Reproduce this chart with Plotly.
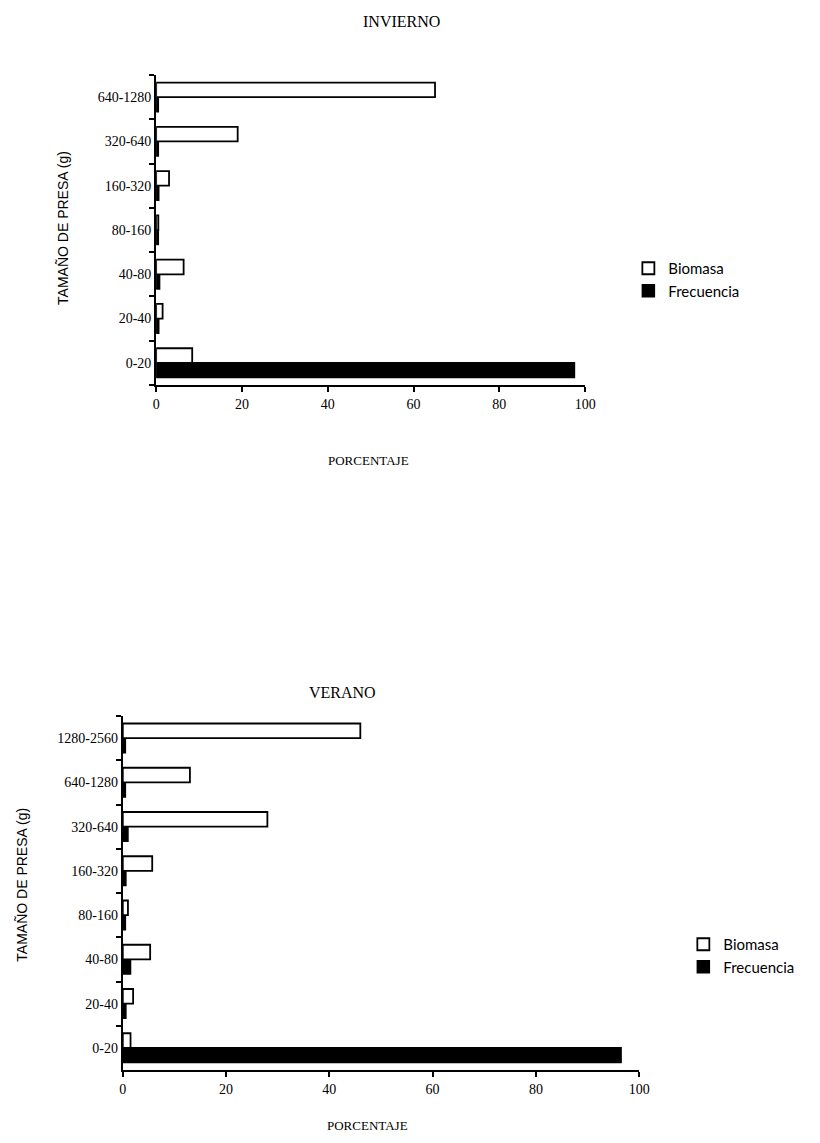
import plotly.graph_objects as go

# ---------------- data ----------------
cats_inv = ["0-20", "20-40", "40-80", "80-160", "160-320", "320-640", "640-1280"]
biomasa_inv = [8.4, 1.5, 6.4, 0.5, 3.0, 19.0, 65.0]
frecuencia_inv = [97.5, 0.6, 0.8, 0.5, 0.6, 0.5, 0.5]

cats_ver = ["0-20", "20-40", "40-80", "80-160", "160-320", "320-640", "640-1280", "1280-2560"]
biomasa_ver = [1.5, 2.0, 5.3, 1.0, 5.7, 28.0, 13.0, 46.0]
frecuencia_ver = [96.5, 0.6, 1.5, 0.5, 0.6, 1.0, 0.5, 0.5]

x_ticks = [0, 20, 40, 60, 80, 100]

serif = "Liberation Serif"
sans = "Lato"

fig = go.Figure()

# INVIERNO (top)
fig.add_trace(go.Bar(y=cats_inv, x=frecuencia_inv, orientation="h", name="Frecuencia",
                     marker=dict(color="black", line=dict(color="black", width=1.5)),
                     xaxis="x", yaxis="y", legend="legend", legendrank=2))
fig.add_trace(go.Bar(y=cats_inv, x=biomasa_inv, orientation="h", name="Biomasa",
                     marker=dict(color="white", line=dict(color="black", width=1.8)),
                     xaxis="x", yaxis="y", legend="legend", legendrank=1))

# VERANO (bottom)
fig.add_trace(go.Bar(y=cats_ver, x=frecuencia_ver, orientation="h", name="Frecuencia",
                     marker=dict(color="black", line=dict(color="black", width=1.5)),
                     xaxis="x2", yaxis="y2", legend="legend2", legendrank=2))
fig.add_trace(go.Bar(y=cats_ver, x=biomasa_ver, orientation="h", name="Biomasa",
                     marker=dict(color="white", line=dict(color="black", width=1.8)),
                     xaxis="x2", yaxis="y2", legend="legend2", legendrank=1))

W, H = 820, 1143

def px_x(p):
    return p / W

def px_y(p):
    return 1 - p / H

axis_common = dict(showline=True, linecolor="black", linewidth=2, showgrid=False,
                   zeroline=False, ticks="outside", ticklen=5, tickcolor="black", tickwidth=1.5,
                   tickfont=dict(family=serif, size=14, color="black"))

fig.update_layout(
    width=W, height=H,
    margin=dict(l=0, r=0, t=0, b=0),
    paper_bgcolor="white", plot_bgcolor="white",
    barmode="group", bargap=0.34, bargroupgap=0.0,
    xaxis=dict(domain=[px_x(155), px_x(592)], range=[0, 100], tickvals=x_ticks,
               anchor="y", **axis_common),
    yaxis=dict(domain=[px_y(385), px_y(75)], type="category", categoryorder="array",
               categoryarray=cats_inv, tickson="boundaries", anchor="x", **axis_common),
    xaxis2=dict(domain=[px_x(121), px_x(647)], range=[0, 100], tickvals=x_ticks,
                anchor="y2", **axis_common),
    yaxis2=dict(domain=[px_y(1070), px_y(716)], type="category", categoryorder="array",
                categoryarray=cats_ver, tickson="boundaries", anchor="x2", **axis_common),
    legend=dict(x=px_x(636), y=px_y(252), xanchor="left", yanchor="top",
                font=dict(family=sans, size=15, color="black"), traceorder="normal",
                itemwidth=30, tracegroupgap=2, bgcolor="rgba(0,0,0,0)"),
    legend2=dict(x=px_x(692), y=px_y(928), xanchor="left", yanchor="top",
                 font=dict(family=sans, size=15, color="black"), traceorder="normal",
                 itemwidth=30, tracegroupgap=2, bgcolor="rgba(0,0,0,0)"),
    annotations=[
        dict(text="INVIERNO", x=px_x(405), y=px_y(22), xref="paper", yref="paper",
             xanchor="center", yanchor="middle",
             showarrow=False, font=dict(family=serif, size=16, color="black")),
        dict(text="PORCENTAJE", x=px_x(371), y=px_y(460), xref="paper", yref="paper",
             xanchor="center", yanchor="middle",
             showarrow=False, font=dict(family=serif, size=13, color="black")),
        dict(text="TAMAÑO DE PRESA (g)", x=px_x(60), y=px_y(228), xref="paper", yref="paper",
             xanchor="center", yanchor="middle",
             showarrow=False, textangle=-90, font=dict(family="Liberation Sans", size=14, color="black")),
        dict(text="VERANO", x=px_x(345), y=px_y(692), xref="paper", yref="paper",
             xanchor="center", yanchor="middle",
             showarrow=False, font=dict(family=serif, size=16, color="black")),
        dict(text="PORCENTAJE", x=px_x(370), y=px_y(1125), xref="paper", yref="paper",
             xanchor="center", yanchor="middle",
             showarrow=False, font=dict(family=serif, size=13, color="black")),
        dict(text="TAMAÑO DE PRESA (g)", x=px_x(18), y=px_y(885), xref="paper", yref="paper",
             xanchor="center", yanchor="middle",
             showarrow=False, textangle=-90, font=dict(family="Liberation Sans", size=14, color="black")),
    ],
)

fig.write_html("out.html")
